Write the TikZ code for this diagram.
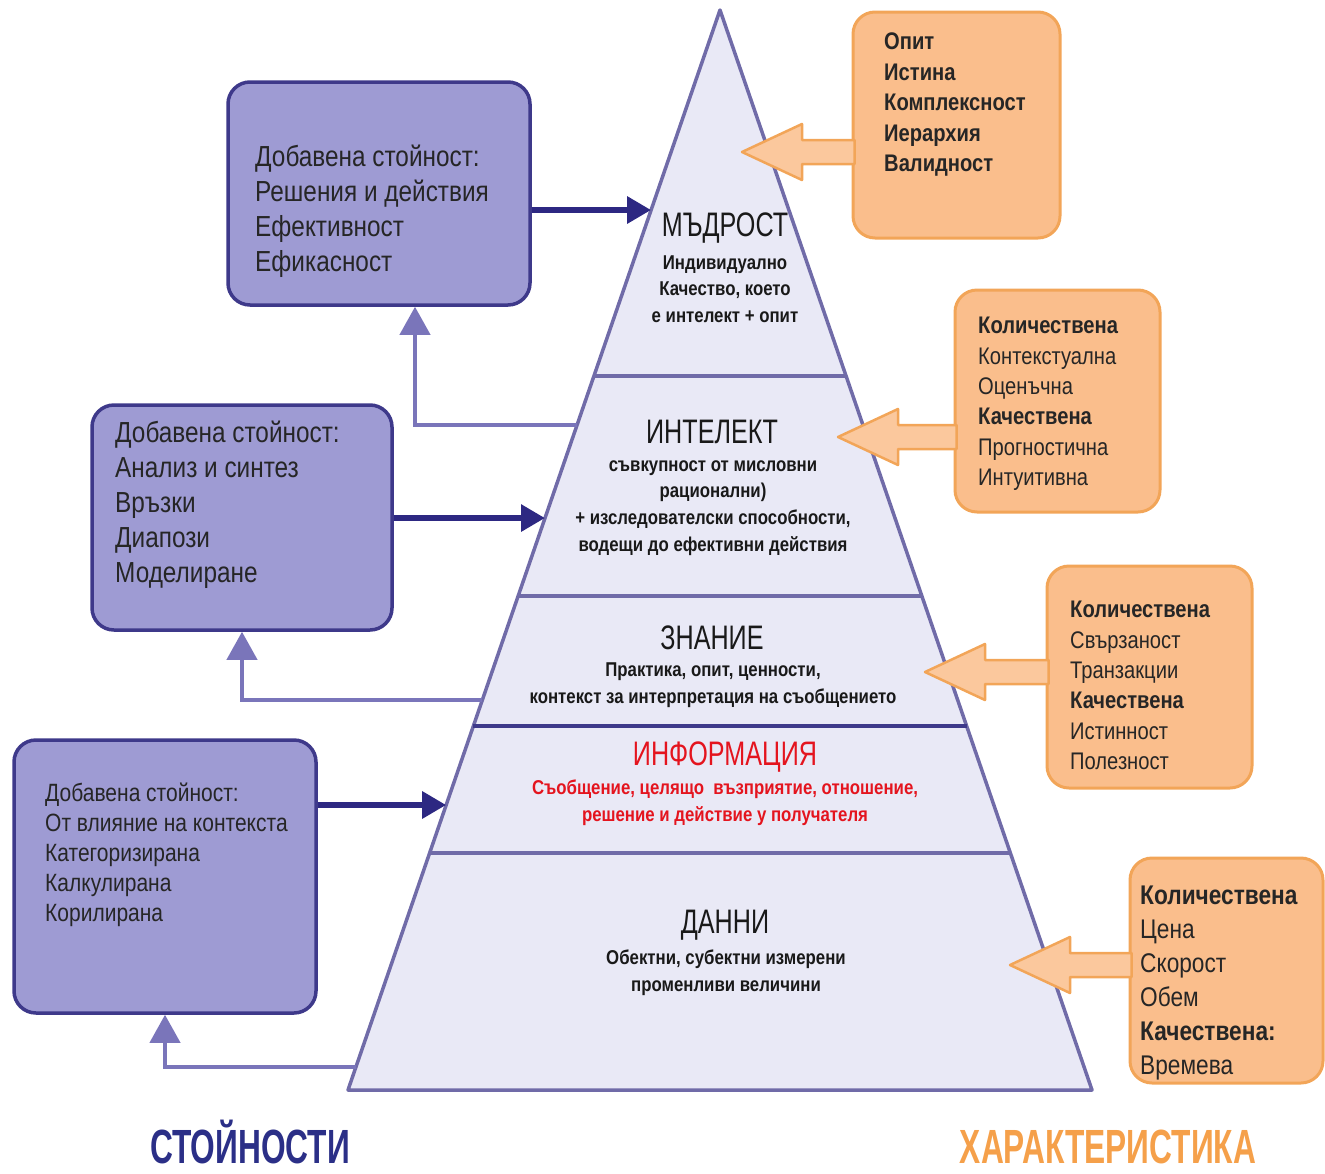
\documentclass[tikz,border=0pt]{standalone}
\usepackage{fontspec}
\setmainfont{Liberation Sans}[FakeStretch=0.84]
\newfontfamily\narrowfont{Liberation Sans}[FakeStretch=0.74]
\newfontfamily\labelfont{Liberation Sans}[FakeStretch=0.66]
\usetikzlibrary{arrows.meta,calc}
\definecolor{valfill}{RGB}{158,155,211}
\definecolor{valline}{RGB}{62,57,138}
\definecolor{navyarrow}{RGB}{45,40,130}
\definecolor{backline}{RGB}{122,117,186}
\definecolor{pyrfill}{RGB}{233,233,246}
\definecolor{pyrline}{RGB}{112,107,168}
\definecolor{charfill}{RGB}{250,190,140}
\definecolor{charline}{RGB}{242,165,88}
\definecolor{infored}{RGB}{228,20,30}
\definecolor{valtitle}{RGB}{43,47,135}
\definecolor{chartitle}{RGB}{245,160,74}

\begin{document}
\begin{tikzpicture}[x=1pt,y=-1pt]
\tikzset{valbox/.style={draw=valline,fill=valfill,line width=3.5pt,rounded corners=22pt},
charbox/.style={draw=charline,fill=charfill,line width=3pt,rounded corners=22pt},
boxtext/.style={align=left,inner sep=0pt,anchor=north west,text=black!85,font=\fontsize{29}{35}\selectfont},
chartext/.style={boxtext,font=\fontsize{24}{30.4}\selectfont},
lvltitle/.style={inner sep=0pt,text=black!90,font=\narrowfont\fontsize{34}{34}\selectfont},
lvlsub/.style={inner sep=0pt,align=center,text=black!90,font=\bfseries\fontsize{20}{26.7}\selectfont},
sidelabel/.style={inner sep=0pt,anchor=base,font=\labelfont\bfseries\fontsize{48}{48}\selectfont},
valarrow/.style={navyarrow,line width=6pt,-{Triangle[width=26pt,length=24pt]}},
backarrow/.style={backline,line width=4pt,-{Triangle[width=30pt,length=28pt]}},
chararrow/.style={draw=charline,fill=charfill!85!white,line width=2.5pt,line join=round}}
\useasboundingbox (0,0) rectangle (1325,1173);

\coordinate (apex) at (720,10);
\coordinate (bl) at (348,1090);
\coordinate (br) at (1092,1090);
\draw[pyrline,fill=pyrfill,line width=3.5pt,line join=round] (apex) -- (bl) -- (br) -- cycle;
\foreach \f/\c in {0.3389/pyrline,0.5426/pyrline,0.6630/valline,0.7806/pyrline}
  \draw[\c,line width=3.5pt] ($(apex)!\f!(bl)$) -- ($(apex)!\f!(br)$);

\node[lvltitle] (wis) at (725,228) {МЪДРОСТ};
\node[lvlsub] (wisd) at (725,289) {Индивидуално\\Качество, което\\е интелект + опит};
\node[lvltitle] (int) at (712,432) {ИНТЕЛЕКТ};
\node[lvlsub] (intd) at (713,508) {съвкупност от мисловни\\рационални)\\+ изследователски способности,\\водещи до ефективни действия};
\node[lvltitle] (kno) at (712,638) {ЗНАНИЕ};
\node[lvlsub] (knod) at (713,685) {Практика, опит, ценности,\\контекст за интерпретация на съобщението};
\node[lvltitle,text=infored] (inf) at (725,757) {ИНФОРМАЦИЯ};
\node[lvlsub,text=infored] (infd) at (725,803) {Съобщение, целящо \ възприятие, отношение,\\решение и действие у получателя};
\node[lvltitle] (dat) at (725,925) {ДАННИ};
\node[lvlsub] (datd) at (726,973) {Обектни, субектни измерени\\променливи величини};

\foreach \i/\tx/\ty in {1/742/152,2/838/437,3/925/672,4/1010/965}
  \coordinate (t\i) at (\tx,\ty);
\node[charbox,minimum width=207pt,minimum height=226pt] (k1) at (956.5,125) {};
\node[charbox,minimum width=205pt,minimum height=222pt] (k2) at (1057.5,401) {};
\node[charbox,minimum width=205pt,minimum height=222pt] (k3) at (1149.5,677) {};
\node[charbox,minimum width=193pt,minimum height=225pt] (k4) at (1226.5,970.5) {};
\foreach \i in {1,...,4}
  \draw[chararrow] (t\i) -- ++(60,-28) -- ++(0,16) -- ($(k\i.west |- t\i)+(3,-12)$)
    -- ($(k\i.west |- t\i)+(3,12)$) -- ($(t\i)+(60,12)$) -- ++(0,16) -- cycle;

\node[chartext,font=\bfseries\fontsize{24}{30.4}\selectfont] (k1t) at (884,33) {Опит\\Истина\\Комплексност\\Иерархия\\Валидност};
\node[chartext] (k2t) at (978,317) {\textbf{Количествена}\\Контекстуална\\Оценъчна\\\textbf{Качествена}\\Прогностична\\Интуитивна};
\node[chartext] (k3t) at (1070,601) {\textbf{Количествена}\\Свързаност\\Транзакции\\\textbf{Качествена}\\Истинност\\Полезност};
\node[chartext,font=\fontsize{27}{34}\selectfont] (k4t) at (1140,886) {\textbf{Количествена}\\Цена\\Скорост\\Обем\\\textbf{Качествена:}\\Времева};

\node[valbox,minimum width=302pt,minimum height=223pt] (v1) at (379,193.5) {};
\node[valbox,minimum width=300pt,minimum height=225pt] (v2) at (242,517.5) {};
\node[valbox,minimum width=302pt,minimum height=273pt] (v3) at (165,876.5) {};
\node[boxtext] (v1t) at (255,145) {Добавена стойност:\\Решения и действия\\Ефективност\\Ефикасност};
\node[boxtext] (v2t) at (115,421) {Добавена стойност:\\Анализ и синтез\\Връзки\\Диапози\\Моделиране};
\node[boxtext,font=\fontsize{25}{30}\selectfont] (v3t) at (45,783) {Добавена стойност:\\От влияние на контекста\\Категоризирана\\Калкулирана\\Корилирана};

\coordinate (a1) at ($(apex)!0.1852!(bl)$);
\coordinate (a2) at ($(apex)!0.4704!(bl)$);
\coordinate (a3) at ($(apex)!0.7361!(bl)$);
\draw[valarrow] (v1.east |- a1) -- (a1);
\draw[valarrow] (v2.east |- a2) -- (a2);
\draw[valarrow] (v3.east |- a3) -- (a3);

\coordinate (b1) at ($(apex)!0.3843!(bl)$);
\coordinate (b2) at ($(apex)!0.6389!(bl)$);
\coordinate (b3) at ($(apex)!0.9787!(bl)$);
\draw[backarrow] (b1) -| ([xshift=36pt]v1.south);
\draw[backarrow] (b2) -| (v2.south);
\draw[backarrow] (b3) -| (v3.south);

\node[sidelabel,text=valtitle] (vals) at (250,1163) {СТОЙНОСТИ};
\node[sidelabel,text=chartitle] (chars) at (1108,1163) {ХАРАКТЕРИСТИКА};
\end{tikzpicture}
\end{document}
